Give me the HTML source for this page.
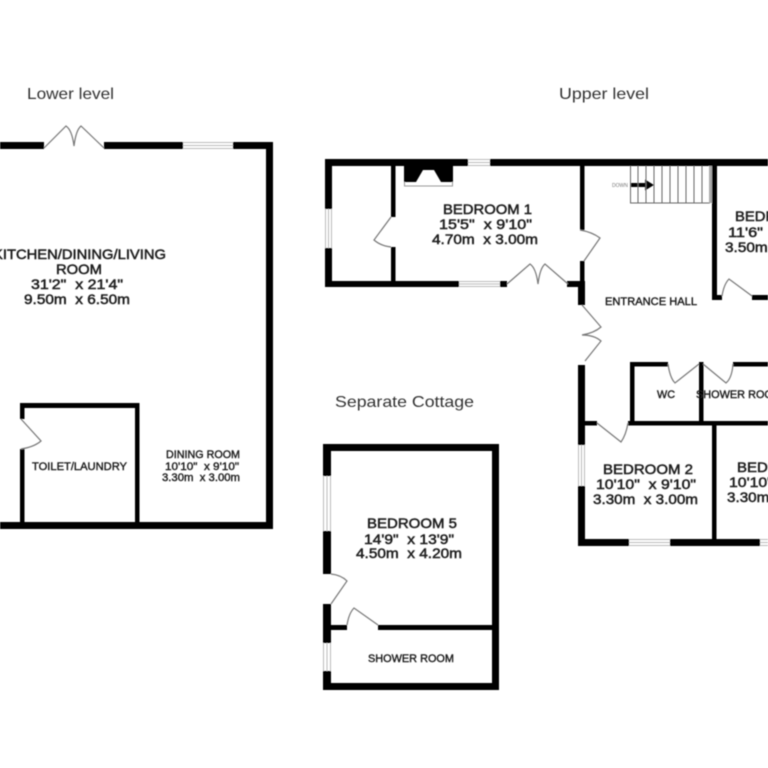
<!DOCTYPE html>
<html>
<head>
<meta charset="utf-8">
<style>
html,body{margin:0;padding:0;background:#fff;width:768px;height:768px;overflow:hidden}
svg{display:block}
text{font-family:"Liberation Sans",sans-serif;fill:#1c1c1c;stroke:#1c1c1c;stroke-width:.5}
.l{font-size:14px}
.s{font-size:11px;stroke-width:.4}
.t{font-size:16px;fill:#333;stroke:none}
.d{fill:none;stroke:#777;stroke-width:1.2}
.w{fill:none;stroke:#bbb;stroke-width:1}
</style>
</head>
<body>
<svg width="768" height="768" viewBox="0 0 768 768" xmlns="http://www.w3.org/2000/svg">
<defs><filter id="b" x="-5%" y="-5%" width="110%" height="110%"><feGaussianBlur stdDeviation="0.45"/></filter></defs>
<g filter="url(#b)">
<g fill="#000">
<!-- lower level -->
<rect x="0" y="142" width="44" height="7"/>
<rect x="104" y="142" width="79" height="7"/>
<rect x="233" y="142" width="40" height="7"/>
<rect x="266" y="142" width="7" height="387"/>
<rect x="0" y="522" width="273" height="7"/>
<rect x="20" y="403" width="119" height="5"/>
<rect x="20" y="403" width="4.500" height="16"/>
<rect x="20" y="449" width="4.500" height="75"/>
<rect x="135" y="403" width="4.500" height="121"/>
<!-- upper level top -->
<rect x="325" y="159" width="143" height="7"/>
<rect x="490" y="159" width="278" height="7"/>
<rect x="325" y="159" width="7" height="50"/>
<rect x="325" y="248" width="7" height="39"/>
<rect x="325" y="281" width="134" height="6"/>
<rect x="500" y="281" width="7" height="6"/>
<rect x="391" y="164" width="4.500" height="53"/>
<rect x="391" y="247" width="4.500" height="36"/>
<path d="M404 166H453V182H441L434 170H423L416 182H404Z"/>
<rect x="580" y="164" width="4.500" height="66"/>
<rect x="580" y="261" width="4.500" height="25"/>
<rect x="567" y="281" width="18" height="6"/>
<rect x="578" y="281" width="7" height="24"/>
<rect x="712" y="164" width="5" height="136"/>
<rect x="712" y="295" width="10" height="5"/>
<rect x="752" y="295" width="16" height="5"/>
<!-- upper level bottom -->
<rect x="578" y="365" width="7" height="80"/>
<rect x="578" y="486" width="7" height="60"/>
<rect x="578" y="539" width="51" height="7"/>
<rect x="670" y="539" width="90" height="7"/>
<rect x="712" y="421" width="4.500" height="120"/>
<rect x="583" y="421" width="14" height="4.500"/>
<rect x="628" y="421" width="140" height="4.500"/>
<rect x="630" y="362" width="4.500" height="60"/>
<rect x="630" y="362" width="38" height="4.500"/>
<rect x="699" y="362" width="4.500" height="62"/>
<rect x="733" y="362" width="35" height="4.500"/>
<!-- cottage -->
<rect x="323" y="444" width="176" height="7"/>
<rect x="492" y="444" width="7" height="246"/>
<rect x="323" y="683" width="176" height="7"/>
<rect x="323" y="444" width="8" height="32"/>
<rect x="323" y="531" width="8" height="43"/>
<rect x="323" y="604" width="8" height="39"/>
<rect x="323" y="671" width="8" height="19"/>
<rect x="329" y="625" width="18" height="5"/>
<rect x="378" y="625" width="116" height="5"/>
<!-- arrow -->
<rect x="630" y="183" width="15" height="4"/>
<path d="M645 179.500L654 185L645 190.500Z"/>
</g>
<!-- windows -->
<g class="w">
<path d="M183 142.500H233M183 145.500H233M183 148.500H233"/>
<path d="M468 159.500H490M468 162.500H490M468 165.500H490"/>
<path d="M325.500 209V248M328.500 209V248M331.500 209V248"/>
<path d="M459 281.500H500M459 284H500M459 286.500H500"/>
<path d="M578.500 445V486M581.500 445V486M584.500 445V486"/>
<path d="M629 539.500H670M629 542.500H670M629 545.500H670"/>
<path d="M760 539.500H768M760 542.500H768M760 545.500H768"/>
<path d="M323.500 476V531M327 476V531M330.500 476V531"/>
<path d="M323.500 643V671M327 643V671M330.500 643V671"/>
</g>
<!-- fireplace surround -->
<path d="M404.500 182V186H452.500V182" fill="none" stroke="#999" stroke-width="1"/>
<!-- doors -->
<g class="d">
<path d="M44 148L66 126Q72 130 74 146Q76 130 81 126L104 148"/>
<path d="M21 419L41 441Q34 447 21 449"/>
<path d="M391 217L374 240Q381 246 391 247"/>
<path d="M580 230Q592 232 600 238L584 261"/>
<path d="M507 284L530 264Q536 268 538 284Q540 268 545 264L568 284"/>
<path d="M582 305L601 327Q594 333 582 335Q594 335 601 341L585 361"/>
<path d="M722 296Q724 284 729 279L752 296"/>
<path d="M668 364Q670 378 675 383L699 364"/>
<path d="M703 364L726 383Q732 378 733 364"/>
<path d="M597 423L621 442Q626 435 628 423"/>
<path d="M331 574Q341 575 347 581L331 604"/>
<path d="M347 625Q349 613 354 608L378 625"/>
</g>
<!-- stairs -->
<g fill="none" stroke="#666" stroke-width="1">
<path d="M630.500 166V203H710"/>
<path d="M638 166V203M646 166V203M654 166V203M662 166V203M670 166V203M678 166V203M686 166V203M694 166V203M702 166V203"/>
</g>
<rect x="709" y="166" width="3" height="37" fill="#aaa"/>
<!-- titles -->
<text class="t" x="27" y="99" textLength="87" lengthAdjust="spacingAndGlyphs">Lower level</text>
<text class="t" x="559" y="99" textLength="90" lengthAdjust="spacingAndGlyphs">Upper level</text>
<text class="t" x="335" y="407" textLength="139" lengthAdjust="spacingAndGlyphs">Separate Cottage</text>
<!-- kitchen -->
<text class="l" x="-7" y="259" textLength="173" lengthAdjust="spacingAndGlyphs">KITCHEN/DINING/LIVING</text>
<text class="l" x="56" y="274" textLength="46" lengthAdjust="spacingAndGlyphs">ROOM</text>
<text class="l" x="31" y="289" textLength="92" lengthAdjust="spacingAndGlyphs" xml:space="preserve">31'2"  x 21'4"</text>
<text class="l" x="24" y="304" textLength="106" lengthAdjust="spacingAndGlyphs" xml:space="preserve">9.50m  x 6.50m</text>
<text class="s" x="32" y="470" textLength="95" lengthAdjust="spacingAndGlyphs">TOILET/LAUNDRY</text>
<text class="s" x="166" y="458" textLength="74" lengthAdjust="spacingAndGlyphs">DINING ROOM</text>
<text class="s" x="165" y="470" textLength="74" lengthAdjust="spacingAndGlyphs" xml:space="preserve">10'10"  x 9'10"</text>
<text class="s" x="162" y="481" textLength="78" lengthAdjust="spacingAndGlyphs" xml:space="preserve">3.30m  x 3.00m</text>
<!-- bedroom 1 -->
<text class="l" x="443" y="214" textLength="89" lengthAdjust="spacingAndGlyphs">BEDROOM 1</text>
<text class="l" x="439" y="229" textLength="93" lengthAdjust="spacingAndGlyphs" xml:space="preserve">15'5"  x 9'10"</text>
<text class="l" x="432" y="244" textLength="106" lengthAdjust="spacingAndGlyphs" xml:space="preserve">4.70m  x 3.00m</text>
<text class="s" x="605" y="305" textLength="92" lengthAdjust="spacingAndGlyphs">ENTRANCE HALL</text>
<text x="612" y="187" font-size="5" style="fill:#777;stroke:none">DOWN</text>
<!-- bedroom 3 -->
<text class="l" x="735" y="221" textLength="89" lengthAdjust="spacingAndGlyphs">BEDROOM 3</text>
<text class="l" x="728" y="237" textLength="93" lengthAdjust="spacingAndGlyphs" xml:space="preserve">11'6"  x 9'10"</text>
<text class="l" x="725" y="252" textLength="106" lengthAdjust="spacingAndGlyphs" xml:space="preserve">3.50m  x 3.00m</text>
<text class="s" x="657" y="398" textLength="18" lengthAdjust="spacingAndGlyphs">WC</text>
<text class="s" x="696" y="398" textLength="86" lengthAdjust="spacingAndGlyphs">SHOWER ROOM</text>
<!-- bedroom 2 -->
<text class="l" x="603" y="474" textLength="90" lengthAdjust="spacingAndGlyphs">BEDROOM 2</text>
<text class="l" x="596" y="489" textLength="100" lengthAdjust="spacingAndGlyphs" xml:space="preserve">10'10"  x 9'10"</text>
<text class="l" x="593" y="504" textLength="105" lengthAdjust="spacingAndGlyphs" xml:space="preserve">3.30m  x 3.00m</text>
<!-- bedroom 4 -->
<text class="l" x="737" y="472" textLength="90" lengthAdjust="spacingAndGlyphs">BEDROOM 4</text>
<text class="l" x="729" y="487" textLength="100" lengthAdjust="spacingAndGlyphs" xml:space="preserve">10'10"  x 9'10"</text>
<text class="l" x="727" y="502" textLength="105" lengthAdjust="spacingAndGlyphs" xml:space="preserve">3.30m  x 3.00m</text>
<!-- bedroom 5 -->
<text class="l" x="367" y="528" textLength="90" lengthAdjust="spacingAndGlyphs">BEDROOM 5</text>
<text class="l" x="364" y="544" textLength="90" lengthAdjust="spacingAndGlyphs" xml:space="preserve">14'9"  x 13'9"</text>
<text class="l" x="356" y="558" textLength="106" lengthAdjust="spacingAndGlyphs" xml:space="preserve">4.50m  x 4.20m</text>
<text class="s" x="368" y="662" textLength="86" lengthAdjust="spacingAndGlyphs">SHOWER ROOM</text>
</g>
</svg>
</body>
</html>
